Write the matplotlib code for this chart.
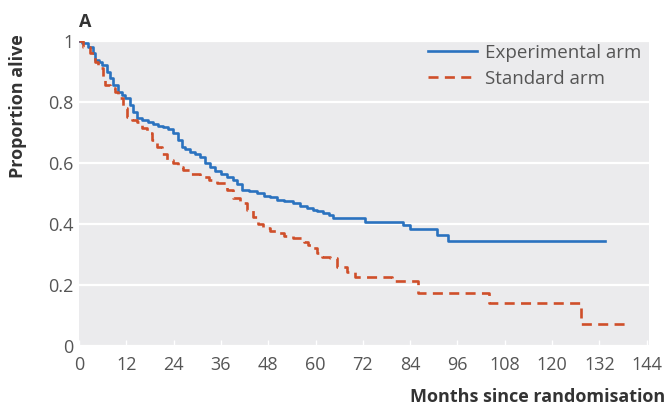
import matplotlib
matplotlib.use("Agg")
import matplotlib.pyplot as plt

# ---- data ----
exp_t = [0, 0.8, 2.3, 3.6, 4.1, 5.0, 5.8, 7.1, 7.9, 8.6, 9.9, 10.8, 11.7, 12.9,
         13.7, 14.7, 16, 17.5, 18.8, 20, 21.3, 22.5, 23.9, 25, 26.1, 27, 28.2,
         29.5, 30.7, 32, 33.2, 34.5, 36, 37.5, 39.1, 40, 41.4, 43, 45.2, 47,
         48.5, 50.2, 52, 54.3, 56, 57.9, 59.4, 60.5, 62, 63.5, 64.5, 72.6,
         82.2, 84, 90.8, 93.6, 133.5]
exp_s = [1.0, 0.993, 0.98, 0.961, 0.938, 0.93, 0.921, 0.898, 0.879, 0.856,
         0.833, 0.823, 0.813, 0.79, 0.767, 0.748, 0.742, 0.735, 0.727, 0.722,
         0.718, 0.71, 0.698, 0.675, 0.653, 0.645, 0.636, 0.628, 0.62, 0.6,
         0.587, 0.575, 0.565, 0.555, 0.544, 0.53, 0.511, 0.507, 0.502, 0.493,
         0.487, 0.479, 0.474, 0.469, 0.46, 0.452, 0.446, 0.441, 0.436, 0.428,
         0.42, 0.407, 0.397, 0.384, 0.364, 0.344, 0.344]

std_t = [0, 1, 2.8, 4.1, 4.8, 6.1, 6.6, 7.9, 9.1, 9.9, 11.2, 12.2, 13.5, 14.7,
         16, 17.3, 18.5, 19.8, 21, 22.3, 23.9, 25, 26.4, 28.5, 30.7, 33, 35,
         37.6, 39.1, 40.9, 42.5, 44.2, 45.5, 46.7, 48.5, 50.2, 52, 54.3, 57,
         58, 59.4, 60.5, 61.7, 63.7, 65.5, 68, 70, 79.5, 86, 104, 127.3, 139]
std_s = [1.0, 0.98, 0.961, 0.931, 0.911, 0.879, 0.856, 0.845, 0.833, 0.813,
         0.78, 0.751, 0.742, 0.734, 0.715, 0.698, 0.675, 0.653, 0.63, 0.61,
         0.6, 0.588, 0.577, 0.565, 0.554, 0.545, 0.534, 0.511, 0.485, 0.469,
         0.445, 0.423, 0.4, 0.387, 0.378, 0.37, 0.362, 0.354, 0.34, 0.33,
         0.321, 0.305, 0.292, 0.289, 0.259, 0.243, 0.226, 0.213, 0.174, 0.141,
         0.072, 0.072]

x_ticks = [0, 12, 24, 36, 48, 60, 72, 84, 96, 108, 120, 132, 144]
y_ticks = [0, 0.2, 0.4, 0.6, 0.8, 1.0]
y_ticklabels = ["0", "0.2", "0.4", "0.6", "0.8", "1"]
series_labels = ["Experimental arm", "Standard arm"]

# ---- style ----
plt.rcParams['font.family'] = ['Open Sans', 'DejaVu Sans']
W, H = 667, 405
fig = plt.figure(figsize=(W / 100, H / 100), dpi=100)
ax = fig.add_axes([79 / W, 1 - 346 / H, (649 - 79) / W, (346 - 41) / H])
ax.set_facecolor('#ebebed')
for s in ax.spines.values():
    s.set_visible(False)

blue = '#2a72bf'
red = '#cf4f2a'
txt = '#555555'

ax.plot(exp_t, exp_s, drawstyle='steps-post', color=blue, lw=1.9,
        label=series_labels[0], zorder=3)
ax.plot(std_t, std_s, drawstyle='steps-post', color=red, lw=1.9,
        linestyle=(0, (3.8, 2.4)), label=series_labels[1], zorder=3)

ax.set_xlim(0, 144.6)
ax.set_ylim(0, 1)
ax.set_xticks(x_ticks)
ax.set_yticks(y_ticks)
ax.set_yticklabels(y_ticklabels)
ax.yaxis.grid(True, color='white', lw=1.6)
ax.set_axisbelow(True)
ax.tick_params(axis='x', direction='in', length=4, width=1, color='white',
               labelsize=13, labelcolor=txt, pad=7)
ax.tick_params(axis='y', length=0, labelsize=13, labelcolor=txt, pad=4)

leg = ax.legend(loc='upper right', bbox_to_anchor=(641 / W, 1 - 44 / H),
                bbox_transform=fig.transFigure, frameon=False, fontsize=13.5,
                handlelength=2.6, handletextpad=0.4, labelspacing=0.4,
                borderpad=0, borderaxespad=0)
for t in leg.get_texts():
    t.set_color(txt)

fig.text(18 / W, 1 - 106 / H, 'Proportion alive', rotation=90, ha='center',
         va='center', fontsize=13, fontweight='bold', color='#333333')
fig.text(665 / W, 1 - 397 / H, 'Months since randomisation', ha='right',
         va='center', fontsize=13, fontweight='bold', color='#333333')
fig.text(85 / W, 1 - 22 / H, 'A', ha='center', va='center', fontsize=13,
         fontweight='bold', color='#333333')

fig.savefig('out.png', dpi=100)
